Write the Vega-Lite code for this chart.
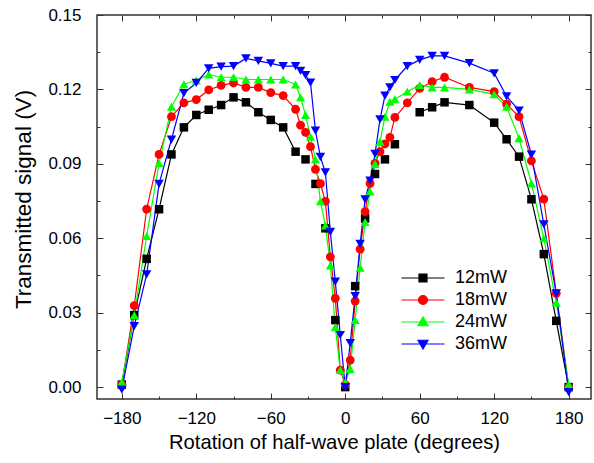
{
  "$schema": "https://vega.github.io/schema/vega-lite/v6.json",
  "width": 494,
  "height": 384,
  "autosize": "none",
  "padding": {"left": 97, "top": 15, "right": 3, "bottom": 64},
  "background": "white",
  "config": {
    "font": "Liberation Sans",
    "view": {"stroke": "#333", "strokeWidth": 1.5},
    "axis": {"labelColor": "black", "titleColor": "black", "titleFontWeight": "normal", "grid": false, "domain": false, "tickColor": "#333", "tickWidth": 1, "labelFont": "Liberation Sans", "titleFont": "Liberation Sans"},
    "legend": {"labelFont": "Liberation Sans", "labelColor": "black", "labelFontSize": 18}
  },
  "data": {"values": [
    {"s":"12mW","g":"k1","x":-180,"y":0.001},{"s":"12mW","g":"k1","x":-170,"y":0.029},{"s":"12mW","g":"k1","x":-160,"y":0.0517},{"s":"12mW","g":"k1","x":-150,"y":0.0717},{"s":"12mW","g":"k1","x":-140,"y":0.0938},{"s":"12mW","g":"k1","x":-130,"y":0.1047},{"s":"12mW","g":"k1","x":-120,"y":0.1097},{"s":"12mW","g":"k1","x":-110,"y":0.1118},{"s":"12mW","g":"k1","x":-100,"y":0.1137},{"s":"12mW","g":"k1","x":-90,"y":0.1168},{"s":"12mW","g":"k1","x":-80,"y":0.1148},{"s":"12mW","g":"k1","x":-70,"y":0.1108},{"s":"12mW","g":"k1","x":-60,"y":0.1077},{"s":"12mW","g":"k1","x":-50,"y":0.1047},{"s":"12mW","g":"k1","x":-40,"y":0.0949},
    {"s":"12mW","g":"i1","x":-32,"y":0.0918},{"s":"12mW","g":"i2","x":-24,"y":0.0819},{"s":"12mW","g":"i3","x":-16,"y":0.064},{"s":"12mW","g":"i4","x":-8,"y":0.027},{"s":"12mW","g":"i5","x":0,"y":0.0},{"s":"12mW","g":"i6","x":8,"y":0.0407},{"s":"12mW","g":"i7","x":16,"y":0.068},{"s":"12mW","g":"i8","x":24,"y":0.0859},{"s":"12mW","g":"i9","x":32,"y":0.0918},{"s":"12mW","g":"i10","x":40,"y":0.0979},
    {"s":"12mW","g":"k2","x":60,"y":0.1108},{"s":"12mW","g":"k2","x":70,"y":0.1128},{"s":"12mW","g":"k2","x":80,"y":0.1148},{"s":"12mW","g":"k2","x":100,"y":0.1137},{"s":"12mW","g":"k2","x":120,"y":0.1066},{"s":"12mW","g":"k2","x":130,"y":0.0999},{"s":"12mW","g":"k2","x":140,"y":0.0929},{"s":"12mW","g":"k2","x":150,"y":0.0757},{"s":"12mW","g":"k2","x":160,"y":0.0536},{"s":"12mW","g":"k2","x":170,"y":0.0267},{"s":"12mW","g":"k2","x":180,"y":0.0},

    {"s":"18mW","g":"r","x":-180,"y":0.001},{"s":"18mW","g":"r","x":-170,"y":0.0328},{"s":"18mW","g":"r","x":-160,"y":0.0717},{"s":"18mW","g":"r","x":-150,"y":0.0938},{"s":"18mW","g":"r","x":-140,"y":0.109},{"s":"18mW","g":"r","x":-130,"y":0.1146},{"s":"18mW","g":"r","x":-120,"y":0.1159},{"s":"18mW","g":"r","x":-110,"y":0.1198},{"s":"18mW","g":"r","x":-100,"y":0.1216},{"s":"18mW","g":"r","x":-90,"y":0.1226},{"s":"18mW","g":"r","x":-80,"y":0.1208},{"s":"18mW","g":"r","x":-70,"y":0.1208},{"s":"18mW","g":"r","x":-60,"y":0.1187},{"s":"18mW","g":"r","x":-50,"y":0.1175},{"s":"18mW","g":"r","x":-40,"y":0.112},{"s":"18mW","g":"r","x":-36,"y":0.1056},{"s":"18mW","g":"r","x":-32,"y":0.1027},{"s":"18mW","g":"r","x":-28,"y":0.0969},{"s":"18mW","g":"r","x":-24,"y":0.0878},{"s":"18mW","g":"r","x":-20,"y":0.082},{"s":"18mW","g":"r","x":-16,"y":0.0749},{"s":"18mW","g":"r","x":-12,"y":0.0525},{"s":"18mW","g":"r","x":-8,"y":0.0358},{"s":"18mW","g":"r","x":-4,"y":0.0068},{"s":"18mW","g":"r","x":0,"y":0.001},{"s":"18mW","g":"r","x":4,"y":0.0109},{"s":"18mW","g":"r","x":8,"y":0.0347},{"s":"18mW","g":"r","x":12,"y":0.0556},{"s":"18mW","g":"r","x":16,"y":0.0707},{"s":"18mW","g":"r","x":20,"y":0.0821},{"s":"18mW","g":"r","x":24,"y":0.0902},{"s":"18mW","g":"r","x":28,"y":0.0949},{"s":"18mW","g":"r","x":32,"y":0.098},{"s":"18mW","g":"r","x":36,"y":0.1007},{"s":"18mW","g":"r","x":40,"y":0.1087},{"s":"18mW","g":"r","x":50,"y":0.1146},{"s":"18mW","g":"r","x":60,"y":0.1204},{"s":"18mW","g":"r","x":70,"y":0.1231},{"s":"18mW","g":"r","x":80,"y":0.1249},{"s":"18mW","g":"r","x":100,"y":0.1208},{"s":"18mW","g":"r","x":120,"y":0.1191},{"s":"18mW","g":"r","x":130,"y":0.1141},{"s":"18mW","g":"r","x":140,"y":0.109},{"s":"18mW","g":"r","x":150,"y":0.0912},{"s":"18mW","g":"r","x":160,"y":0.0758},{"s":"18mW","g":"r","x":170,"y":0.0378},{"s":"18mW","g":"r","x":180,"y":0.0},

    {"s":"24mW","g":"gr","x":-180,"y":0.002},{"s":"24mW","g":"gr","x":-170,"y":0.029},{"s":"24mW","g":"gr","x":-160,"y":0.0609},{"s":"24mW","g":"gr","x":-150,"y":0.0902},{"s":"24mW","g":"gr","x":-140,"y":0.113},{"s":"24mW","g":"gr","x":-130,"y":0.1221},{"s":"24mW","g":"gr","x":-120,"y":0.1236},{"s":"24mW","g":"gr","x":-110,"y":0.126},{"s":"24mW","g":"gr","x":-100,"y":0.1249},{"s":"24mW","g":"gr","x":-90,"y":0.1249},{"s":"24mW","g":"gr","x":-80,"y":0.124},{"s":"24mW","g":"gr","x":-70,"y":0.124},{"s":"24mW","g":"gr","x":-60,"y":0.124},{"s":"24mW","g":"gr","x":-50,"y":0.124},{"s":"24mW","g":"gr","x":-40,"y":0.122},{"s":"24mW","g":"gr","x":-36,"y":0.1168},{"s":"24mW","g":"gr","x":-32,"y":0.1097},{"s":"24mW","g":"gr","x":-28,"y":0.1009},{"s":"24mW","g":"gr","x":-24,"y":0.0918},{"s":"24mW","g":"gr","x":-20,"y":0.0749},{"s":"24mW","g":"gr","x":-16,"y":0.0651},{"s":"24mW","g":"gr","x":-12,"y":0.049},{"s":"24mW","g":"gr","x":-8,"y":0.0241},{"s":"24mW","g":"gr","x":-4,"y":0.0069},{"s":"24mW","g":"gr","x":0,"y":0.002},{"s":"24mW","g":"gr","x":4,"y":0.0073},{"s":"24mW","g":"gr","x":8,"y":0.027},{"s":"24mW","g":"gr","x":12,"y":0.0481},{"s":"24mW","g":"gr","x":16,"y":0.0665},{"s":"24mW","g":"gr","x":20,"y":0.0788},{"s":"24mW","g":"gr","x":24,"y":0.0899},{"s":"24mW","g":"gr","x":28,"y":0.0989},{"s":"24mW","g":"gr","x":32,"y":0.109},{"s":"24mW","g":"gr","x":36,"y":0.115},{"s":"24mW","g":"gr","x":40,"y":0.116},{"s":"24mW","g":"gr","x":50,"y":0.1191},{"s":"24mW","g":"gr","x":60,"y":0.1218},{"s":"24mW","g":"gr","x":70,"y":0.1208},{"s":"24mW","g":"gr","x":80,"y":0.1208},{"s":"24mW","g":"gr","x":100,"y":0.12},{"s":"24mW","g":"gr","x":120,"y":0.118},{"s":"24mW","g":"gr","x":130,"y":0.113},{"s":"24mW","g":"gr","x":140,"y":0.1003},{"s":"24mW","g":"gr","x":150,"y":0.0821},{"s":"24mW","g":"gr","x":160,"y":0.06},{"s":"24mW","g":"gr","x":170,"y":0.034},{"s":"24mW","g":"gr","x":180,"y":0.001},

    {"s":"36mW","g":"b","x":-180,"y":-0.001},{"s":"36mW","g":"b","x":-170,"y":0.0246},{"s":"36mW","g":"b","x":-160,"y":0.0454},{"s":"36mW","g":"b","x":-150,"y":0.0819},{"s":"36mW","g":"b","x":-140,"y":0.0998},{"s":"36mW","g":"b","x":-130,"y":0.1185},{"s":"36mW","g":"b","x":-120,"y":0.1226},{"s":"36mW","g":"b","x":-110,"y":0.1285},{"s":"36mW","g":"b","x":-100,"y":0.1292},{"s":"36mW","g":"b","x":-90,"y":0.1294},{"s":"36mW","g":"b","x":-80,"y":0.1325},{"s":"36mW","g":"b","x":-70,"y":0.1315},{"s":"36mW","g":"b","x":-60,"y":0.1305},{"s":"36mW","g":"b","x":-50,"y":0.1294},{"s":"36mW","g":"b","x":-40,"y":0.1294},{"s":"36mW","g":"b","x":-36,"y":0.1275},{"s":"36mW","g":"b","x":-32,"y":0.1258},{"s":"36mW","g":"b","x":-28,"y":0.1227},{"s":"36mW","g":"b","x":-24,"y":0.1034},{"s":"36mW","g":"b","x":-20,"y":0.0928},{"s":"36mW","g":"b","x":-16,"y":0.0866},{"s":"36mW","g":"b","x":-12,"y":0.0626},{"s":"36mW","g":"b","x":-8,"y":0.0425},{"s":"36mW","g":"b","x":-4,"y":0.021},{"s":"36mW","g":"b","x":0,"y":0.0},{"s":"36mW","g":"b","x":4,"y":0.0177},{"s":"36mW","g":"b","x":8,"y":0.0367},{"s":"36mW","g":"b","x":12,"y":0.0577},{"s":"36mW","g":"b","x":16,"y":0.0757},{"s":"36mW","g":"b","x":20,"y":0.0832},{"s":"36mW","g":"b","x":24,"y":0.094},{"s":"36mW","g":"b","x":28,"y":0.1079},{"s":"36mW","g":"b","x":32,"y":0.1175},{"s":"36mW","g":"b","x":36,"y":0.1208},{"s":"36mW","g":"b","x":40,"y":0.1238},{"s":"36mW","g":"b","x":50,"y":0.1294},{"s":"36mW","g":"b","x":60,"y":0.1319},{"s":"36mW","g":"b","x":70,"y":0.1335},{"s":"36mW","g":"b","x":80,"y":0.1335},{"s":"36mW","g":"b","x":100,"y":0.1306},{"s":"36mW","g":"b","x":120,"y":0.1265},{"s":"36mW","g":"b","x":130,"y":0.1172},{"s":"36mW","g":"b","x":140,"y":0.1115},{"s":"36mW","g":"b","x":150,"y":0.0937},{"s":"36mW","g":"b","x":160,"y":0.0656},{"s":"36mW","g":"b","x":170,"y":0.0378},{"s":"36mW","g":"b","x":180,"y":-0.002}
  ]},
  "resolve": {"axis": {"x": "independent", "y": "independent"}, "legend": {"color": "independent"}},
  "layer": [
    {
      "mark": {"type": "line", "strokeWidth": 1.2},
      "encoding": {
        "x": {"field": "x", "type": "quantitative", "scale": {"domain": [-200, 198], "nice": false, "zero": false},
          "axis": {"orient": "bottom", "values": [-180, -120, -60, 0, 60, 120, 180], "ticks": false, "labelPadding": 11, "labelFontSize": 17, "title": "Rotation of half-wave plate (degrees)", "titleFontSize": 20.2, "titlePadding": 6, "titleX": 237}},
        "y": {"field": "y", "type": "quantitative", "scale": {"domain": [-0.0048, 0.15], "nice": false, "zero": false},
          "axis": {"orient": "left", "values": [0, 0.03, 0.06, 0.09, 0.12, 0.15], "format": ".2f", "ticks": false, "labelPadding": 16, "labelFontSize": 17, "title": "Transmitted signal (V)", "titleFontSize": 22.5, "titlePadding": 12, "titleY": 184}},
        "color": {"field": "s", "type": "nominal", "scale": {"domain": ["12mW", "18mW", "24mW", "36mW"], "range": ["#000000", "#ff0000", "#00ff00", "#0000ff"]},
          "legend": {"orient": "none", "legendX": 317, "legendY": 254, "title": null, "padding": 0, "symbolSize": 100, "symbolStrokeWidth": 1.2, "labelOffset": 23, "rowPadding": 4,
            "encoding": {"symbols": {
              "shape": {"condition": [
                {"test": "datum.value === '12mW'", "value": "M -4.3 0 L 4.3 0 M -0.8 -0.8 L 0.8 -0.8 L 0.8 0.8 L -0.8 0.8 Z"},
                {"test": "datum.value === '18mW'", "value": "M -4.3 0 L 4.3 0 M 0.9 0 A 0.9 0.9 0 1 1 -0.9 0 A 0.9 0.9 0 1 1 0.9 0 Z"},
                {"test": "datum.value === '24mW'", "value": "M -4.3 0 L 4.3 0 M 0 -1 L 1 0.75 L -1 0.75 Z"}],
                "value": "M -4.3 0 L 4.3 0 M 0 1 L 1 -0.75 L -1 -0.75 Z"},
              "fill": {"condition": [
                {"test": "datum.value === '12mW'", "value": "#000000"},
                {"test": "datum.value === '18mW'", "value": "#ff0000"},
                {"test": "datum.value === '24mW'", "value": "#00ff00"}],
                "value": "#0000ff"},
              "strokeWidth": {"value": 1.2},
              "size": {"value": 100}
            }}}},
        "detail": {"field": "g", "type": "nominal"}
      }
    },
    {
      "mark": {"type": "point", "filled": true, "opacity": 1},
      "encoding": {
        "x": {"field": "x", "type": "quantitative", "scale": {"domain": [-200, 198], "nice": false, "zero": false},
          "axis": {"orient": "bottom", "values": [-180, -120, -60, 0, 60, 120, 180], "labels": false, "tickSize": -6, "title": null}},
        "y": {"field": "y", "type": "quantitative", "scale": {"domain": [-0.0048, 0.15], "nice": false, "zero": false},
          "axis": {"orient": "left", "values": [0, 0.03, 0.06, 0.09, 0.12, 0.15], "labels": false, "tickSize": -6, "title": null}},
        "color": {"field": "s", "type": "nominal", "scale": {"domain": ["12mW", "18mW", "24mW", "36mW"], "range": ["#000000", "#ff0000", "#00ff00", "#0000ff"]}, "legend": null},
        "shape": {"field": "s", "type": "nominal", "scale": {"domain": ["12mW", "18mW", "24mW", "36mW"], "range": ["square", "circle", "triangle-up", "triangle-down"]}, "legend": null},
        "size": {"field": "s", "type": "ordinal", "scale": {"domain": ["12mW", "18mW", "24mW", "36mW"], "range": [72, 90, 110, 110]}, "legend": null}
      }
    },
    {
      "mark": {"type": "point", "opacity": 0},
      "encoding": {
        "x": {"field": "x", "type": "quantitative", "scale": {"domain": [-200, 198], "nice": false, "zero": false},
          "axis": {"orient": "bottom", "values": [-150, -90, -30, 30, 90, 150], "labels": false, "tickSize": -3, "title": null}},
        "y": {"field": "y", "type": "quantitative", "scale": {"domain": [-0.0048, 0.15], "nice": false, "zero": false},
          "axis": {"orient": "left", "values": [0.015, 0.045, 0.075, 0.105, 0.135], "labels": false, "tickSize": -3, "title": null}}
      }
    },
    {
      "mark": {"type": "point", "opacity": 0},
      "encoding": {
        "x": {"field": "x", "type": "quantitative", "scale": {"domain": [-200, 198], "nice": false, "zero": false},
          "axis": {"orient": "top", "values": [-180, -120, -60, 0, 60, 120, 180], "labels": false, "tickSize": -6, "title": null}},
        "y": {"field": "y", "type": "quantitative", "scale": {"domain": [-0.0048, 0.15], "nice": false, "zero": false},
          "axis": {"orient": "right", "values": [0, 0.03, 0.06, 0.09, 0.12, 0.15], "labels": false, "tickSize": -6, "title": null}}
      }
    },
    {
      "mark": {"type": "point", "opacity": 0},
      "encoding": {
        "x": {"field": "x", "type": "quantitative", "scale": {"domain": [-200, 198], "nice": false, "zero": false},
          "axis": {"orient": "top", "values": [-150, -90, -30, 30, 90, 150], "labels": false, "tickSize": -3, "title": null}},
        "y": {"field": "y", "type": "quantitative", "scale": {"domain": [-0.0048, 0.15], "nice": false, "zero": false},
          "axis": {"orient": "right", "values": [0.015, 0.045, 0.075, 0.105, 0.135], "labels": false, "tickSize": -3, "title": null}}
      }
    }
  ]
}
